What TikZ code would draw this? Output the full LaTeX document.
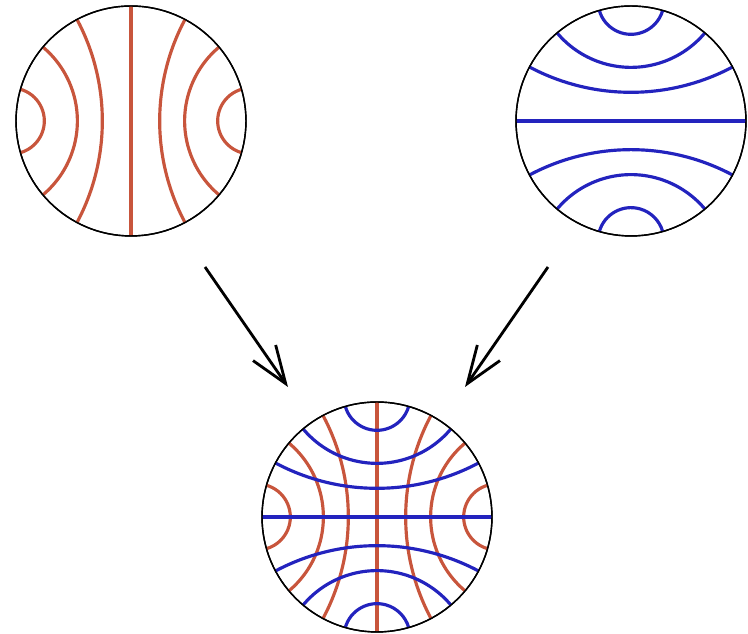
\documentclass[tikz,border=0pt]{standalone}
\usetikzlibrary{arrows.meta}
\definecolor{arcred}{RGB}{200,85,60}
\definecolor{arcblue}{RGB}{35,35,190}

\begin{document}
\begin{tikzpicture}[
    x=0.02cm, y=0.02cm,
    disk/.style={circle, draw=black, line width=0.8pt, minimum size=4.6cm, inner sep=0pt},
    redline/.style={draw=arcred, line width=1.8pt},
    blueline/.style={draw=arcblue, line width=1.8pt},
    arrow/.style={-{Straight Barb[length=0.75cm, width=0.55cm]}, line width=1.6pt, draw=black},
    arcs/.pic={
        \draw[#1] (0,-115) -- (0,115);
        \foreach \s in {1,-1}
            \foreach \t in {62,40,16}
                \draw[#1, xscale=\s] (\t:115) arc[start angle=90+\t, end angle=270-\t, radius={115*tan(\t)}];
    }
]
    \useasboundingbox (0,0) rectangle (748,634);

    \node [disk] (redd) at (131,513) {};
    \node [disk] (blued) at (631,513) {};
    \node [disk] (mixd) at (377,117) {};

    \pic at (redd.center) {arcs=redline};
    \pic[rotate=90] at (blued.center) {arcs=blueline};
    \pic at (mixd.center) {arcs=redline};
    \pic[rotate=90] at (mixd.center) {arcs=blueline};

    \node [disk] at (redd) {};
    \node [disk] at (blued) {};
    \node [disk] at (mixd) {};

    % arrows between the disks
    \coordinate (l1) at (205,367);
    \coordinate (l2) at (288,247);
    \coordinate (r1) at (548,367);
    \coordinate (r2) at (465,247);
    \draw [arrow] (l1) -- (l2);
    \draw [arrow] (r1) -- (r2);
\end{tikzpicture}
\end{document}
